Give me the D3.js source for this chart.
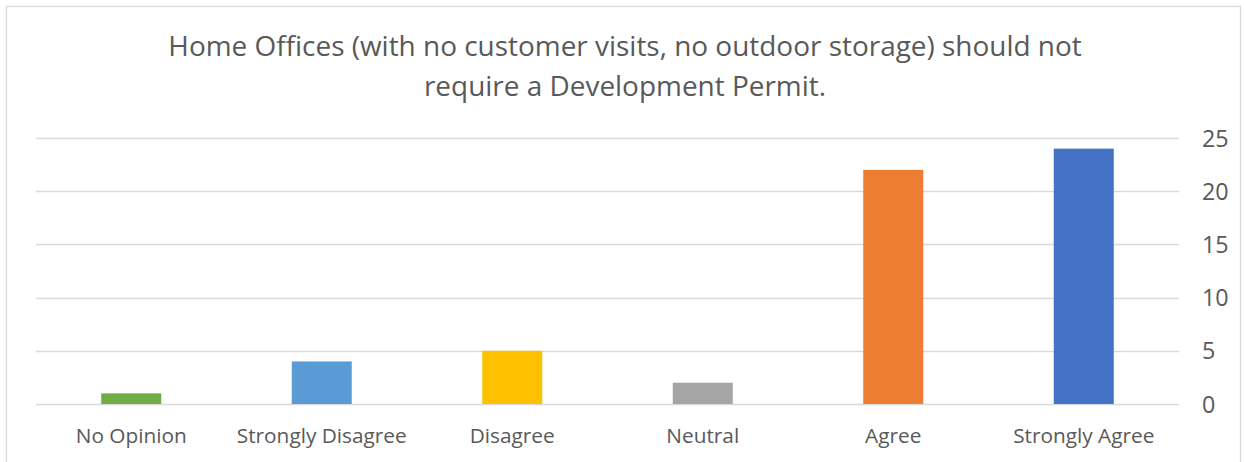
<!DOCTYPE html>
<html>
<head>
<meta charset="utf-8">
<script src="https://cdn.jsdelivr.net/npm/d3@7"></script>
<style>
  body { margin: 0; background: #fff; }
  svg { display: block; font-family: "Open Sans", "Noto Sans", sans-serif; }
</style>
</head>
<body>
<svg id="chart" width="1244" height="462"></svg>
<script>
// chart data
const categories = ["No Opinion", "Strongly Disagree", "Disagree", "Neutral", "Agree", "Strongly Agree"];
const counts = [1, 4, 5, 2, 22, 24];
const barColors = ["#70AD47", "#5B9BD5", "#FFC000", "#A5A5A5", "#ED7D31", "#4472C4"];
const yTicks = [0, 5, 10, 15, 20, 25];
const titleLines = ["Home Offices (with no customer visits, no outdoor storage) should not",
                    "require a Development Permit."];

const svg = d3.select("#chart");
const textColor = "#595959";

// outer chart border (bottom runs off the picture)
svg.append("rect")
    .attr("x", 6.5).attr("y", 6.5)
    .attr("width", 1234).attr("height", 480)
    .attr("fill", "#fff")
    .attr("stroke", "#D9D9D9")
    .attr("stroke-width", 1.3);

let x = d3.scaleBand()
    .domain(categories)
    .range([36, 1179])
    .paddingInner(0.685)
    .paddingOuter(0.3425);
let y = d3.scaleLinear()
    .domain([0, 25])
    .range([404, 138]);

// gridlines
svg.append("g")
    .selectAll("line")
    .data(yTicks)
    .join("line")
    .attr("x1", 36).attr("x2", 1179)
    .attr("y1", d => Math.round(y(d)) + 0.5)
    .attr("y2", d => Math.round(y(d)) + 0.5)
    .attr("stroke", "#D9D9D9")
    .attr("stroke-width", 1.3);

// bars
svg.append("g")
    .selectAll("rect")
    .data(counts)
    .join("rect")
    .attr("x", (d, i) => x(categories[i]))
    .attr("y", d => y(d))
    .attr("width", x.bandwidth())
    .attr("height", d => y(0) - y(d))
    .attr("fill", (d, i) => barColors[i]);

// right value axis
let yAxis = svg.append("g")
    .attr("transform", "translate(1202,0)")
    .call(d3.axisRight(y).tickValues(yTicks).tickSize(0).tickPadding(0))
    .attr("font-family", null);
yAxis.select(".domain").remove();
yAxis.selectAll("text")
    .attr("fill", textColor)
    .style("font-size", "17px")
    .attr("dy", "0.35em");

// category axis
let xAxis = svg.append("g")
    .attr("transform", "translate(0,404)")
    .call(d3.axisBottom(x).tickSize(0).tickPadding(0))
    .attr("font-family", null);
xAxis.select(".domain").remove();
xAxis.selectAll("text")
    .attr("fill", textColor)
    .attr("dy", 0)
    .attr("y", 39)
    .style("font-size", "17px");

// shrink label font to match the reference widths
let probe = xAxis.selectAll("text").filter(d => d == "Strongly Disagree").node();
let fs = 17 * 170 / probe.getComputedTextLength();
xAxis.selectAll("text").style("font-size", fs + "px");
yAxis.selectAll("text").style("font-size", (fs * 1.12) + "px");

// title
let title = svg.append("g")
    .selectAll("text")
    .data(titleLines)
    .join("text")
    .attr("x", 625)
    .attr("y", (d, i) => 56 + i * 40)
    .attr("text-anchor", "middle")
    .attr("fill", textColor)
    .style("font-size", "24px")
    .text(d => d);
let tw = title.nodes()[0].getComputedTextLength();
title.style("font-size", (24 * 914 / tw) + "px");
</script>
</body>
</html>
